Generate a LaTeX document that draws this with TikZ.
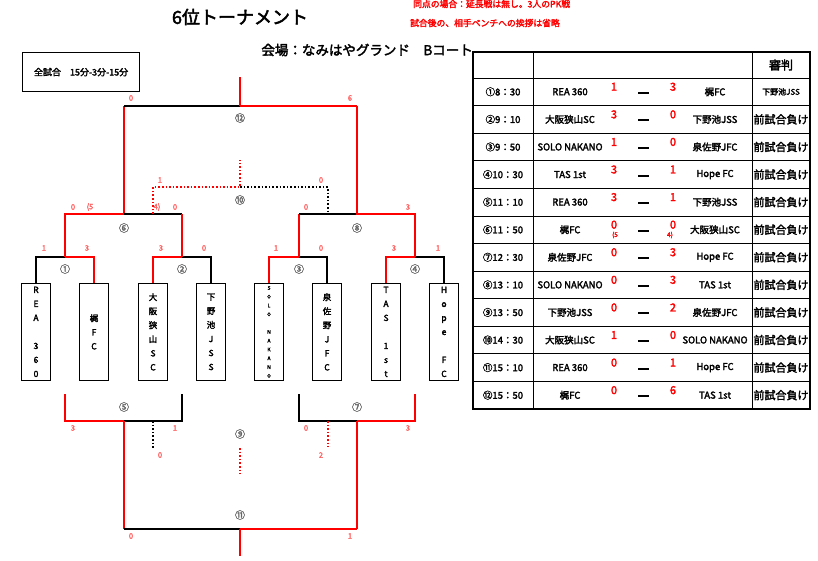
\documentclass[tikz,border=0pt]{standalone}
\usepackage{fontspec}
\setmainfont{Noto Sans CJK JP}[FakeBold=2.5]
\begin{document}
\begin{tikzpicture}[x=1pt,y=-1pt,
  R/.style={draw=red,line width=2.6pt},
  K/.style={draw=black,line width=2.6pt},
  RD/.style={draw=red,line width=1.6pt,dotted},
  KD/.style={draw=black,line width=1.6pt,dotted},
  sc/.style={text=red!60!white,font=\fontsize{7.5}{8}\selectfont,inner sep=0pt},
  mn/.style={text=black!60,font=\fontsize{10}{10}\selectfont,inner sep=0pt},
  team/.style={draw,line width=0.8pt,minimum width=29pt,minimum height=97pt,anchor=north,inner sep=0pt,align=center,font=\fontsize{8.5}{14}\selectfont},
  tt/.style={font=\fontsize{9.5}{10}\selectfont,inner sep=0pt},
  ts/.style={text=red,font=\fontsize{11}{11}\selectfont,inner sep=0pt}]
\useasboundingbox (0,0) rectangle (818,560);
\fill[white] (0,0) rectangle (818,560);
% titles
\node[font=\fontsize{18}{18}\selectfont] (title) at (240,17) {6位トーナメント};
\begin{scope}
\clip (400,-5) rectangle (578,40);
\node[anchor=west,text=red,font=\fontsize{8.8}{9}\selectfont,inner sep=0pt] (n1) at (413,4) {同点の場合：延長戦は無し。3人のPK戦};
\node[anchor=west,text=red,font=\fontsize{8.8}{9}\selectfont,inner sep=0pt] (n2) at (410,23) {試合後の、相手ベンチへの挨拶は省略};
\end{scope}
\node[anchor=east,font=\fontsize{13.5}{14}\selectfont,inner sep=0pt] (venue) at (473,50) {会場：なみはやグランド　Bコート};
\node[draw,line width=1.2pt,minimum width=117pt,minimum height=39pt,anchor=north west,font=\fontsize{9}{9}\selectfont,inner sep=1pt] (all) at (22,52) {全試合　15分-3分-15分};
% table
\draw[line width=1.5pt] (473,52) rectangle (810,409);
\draw[line width=0.8pt] (533,52) -- (533,409) (752,52) -- (752,409);
\foreach \i in {1,...,12} \draw[line width=0.8pt] (473,{78+27.58*(\i-1)}) -- (810,{78+27.58*(\i-1)});
\node[font=\fontsize{12}{12}\selectfont] (ref) at (781,65) {審判};
\foreach \i/\t/\h/\a/\b/\w in {1/①8：30/REA 360/1/3/梶FC,2/②9：10/大阪狭山SC/3/0/下野池JSS,3/③9：50/SOLO NAKANO/1/0/泉佐野JFC,4/④10：30/TAS 1st/3/1/Hope FC,5/⑤11：10/REA 360/3/1/下野池JSS,6/⑥11：50/梶FC/0/0/大阪狭山SC,7/⑦12：30/泉佐野JFC/0/3/Hope FC,8/⑧13：10/SOLO NAKANO/0/3/TAS 1st,9/⑨13：50/下野池JSS/0/2/泉佐野JFC,10/⑩14：30/大阪狭山SC/1/0/SOLO NAKANO,11/⑪15：10/REA 360/0/1/Hope FC,12/⑫15：50/梶FC/0/6/TAS 1st}{
  \pgfmathsetmacro\yy{78+27.58*\i-13.8}
  \node[tt] (t\i) at (503,\yy) {\t};
  \node[tt] (h\i) at (570,\yy) {\h};
  \node[ts] (a\i) at (614,\yy-5) {\a};
  \node[fill,minimum width=11pt,minimum height=2pt,inner sep=0pt] (d\i) at (643,\yy+1) {};
  \node[ts] (b\i) at (673,\yy-5) {\b};
  \node[tt] (w\i) at (715,\yy) {\w};
  \ifnum\i>1 \node[font=\fontsize{11}{11}\selectfont,inner sep=0pt] (r\i) at (781,\yy) {前試合負け};\fi
}
\node[font=\fontsize{8}{8}\selectfont,inner sep=0pt] (r1) at (781,91.8) {下野池JSS};
\node[text=red,font=\fontsize{6.5}{7}\selectfont,inner sep=0pt] (p5) at (615,235) {(5};
\node[text=red,font=\fontsize{6.5}{7}\selectfont,inner sep=0pt] (p4) at (670,235) {4)};
% team boxes
\node[team] (T1) at (36,283) {R\\E\\A\\[0pt]\\3\\6\\0};
\node[team] (T2) at (94,283) {梶\\F\\C};
\node[team] (T3) at (153,283) {大\\阪\\狭\\山\\S\\C};
\node[team] (T4) at (211,283) {下\\野\\池\\J\\S\\S};
\node[team,font=\fontsize{5}{8.8}\selectfont] (T5) at (269,283) {S\\O\\L\\O\\[0pt]\\N\\A\\K\\A\\N\\O};
\node[team] (T6) at (327,283) {泉\\佐\\野\\J\\F\\C};
\node[team] (T7) at (386,283) {T\\A\\S\\[0pt]\\1\\s\\t};
\node[team] (T8) at (444,283) {H\\o\\p\\e\\[0pt]\\F\\C};
% first round
\draw[K] (36,283)--(36,257)--(65,257); \draw[R] (65,257)--(94,257)--(94,283);
\draw[R] (153,283)--(153,257)--(182,257); \draw[K] (182,257)--(211,257)--(211,283);
\draw[R] (269,283)--(269,257)--(299,257); \draw[K] (299,257)--(327,257)--(327,283);
\draw[R] (386,283)--(386,257)--(415,257); \draw[K] (415,257)--(444,257)--(444,283);
\foreach \x/\n in {65/①,182/②,299/③,415/④} \node[mn] at (\x,269) {\n};
\foreach \x/\s in {44/1,87/3,161/3,204/0,276/1,321/0,394/3,438/1} \node[sc] at (\x,248) {\s};
% 6 and 8
\draw[R] (65,257)--(65,214)--(124,214)--(124,106);
\draw[K] (124,214)--(182,214); \draw[R] (182,214)--(182,257);
\draw[R] (299,257)--(299,214); \draw[K] (299,214)--(357,214);
\draw[R] (415,257)--(415,214)--(357,214)--(357,106);
\node[mn] at (124,228) {⑥}; \node[mn] at (357,228) {⑧};
\node[sc] at (73,207) {0}; \node[sc] at (90,207) {(5}; \node[sc] at (157,207) {4)}; \node[sc] at (175,207) {0};
\node[sc] at (306,207) {0}; \node[sc] at (408,207) {3};
% 12
\draw[K] (124,106)--(240,106); \draw[R] (240,106)--(357,106); \draw[R] (240,106)--(240,77);
\node[mn] at (240,118) {⑫}; \node[sc] at (131,98) {0}; \node[sc] at (350,98) {6};
% 10
\draw[RD] (153,214)--(153,187)--(240,187)--(240,160);
\draw[KD] (240,187)--(328,187)--(328,214);
\node[mn] at (240,200) {⑩}; \node[sc] at (160,180) {1}; \node[sc] at (321,180) {0};
% bottom 5 and 7
\draw[R] (65,394)--(65,421)--(124,421); \draw[K] (124,421)--(182,421)--(182,394);
\draw[K] (299,394)--(299,421)--(357,421); \draw[R] (357,421)--(415,421)--(415,394);
\node[mn] at (124,407) {⑤}; \node[mn] at (357,407) {⑦};
\node[sc] at (73,428) {3}; \node[sc] at (175,428) {1}; \node[sc] at (306,428) {0}; \node[sc] at (408,428) {3};
% 9
\draw[KD] (153,421)--(153,448); \draw[RD] (328,421)--(328,447); \draw[RD] (240,448)--(240,474);
\node[mn] at (240,434) {⑨}; \node[sc] at (160,455) {0}; \node[sc] at (321,455) {2};
% 11
\draw[R] (124,421)--(124,529); \draw[R] (357,421)--(357,529);
\draw[K] (124,529)--(240,529); \draw[R] (240,529)--(357,529); \draw[R] (240,529)--(240,556);
\node[mn] at (240,515) {⑪}; \node[sc] at (131,536) {0}; \node[sc] at (350,536) {1};
\end{tikzpicture}
\end{document}
